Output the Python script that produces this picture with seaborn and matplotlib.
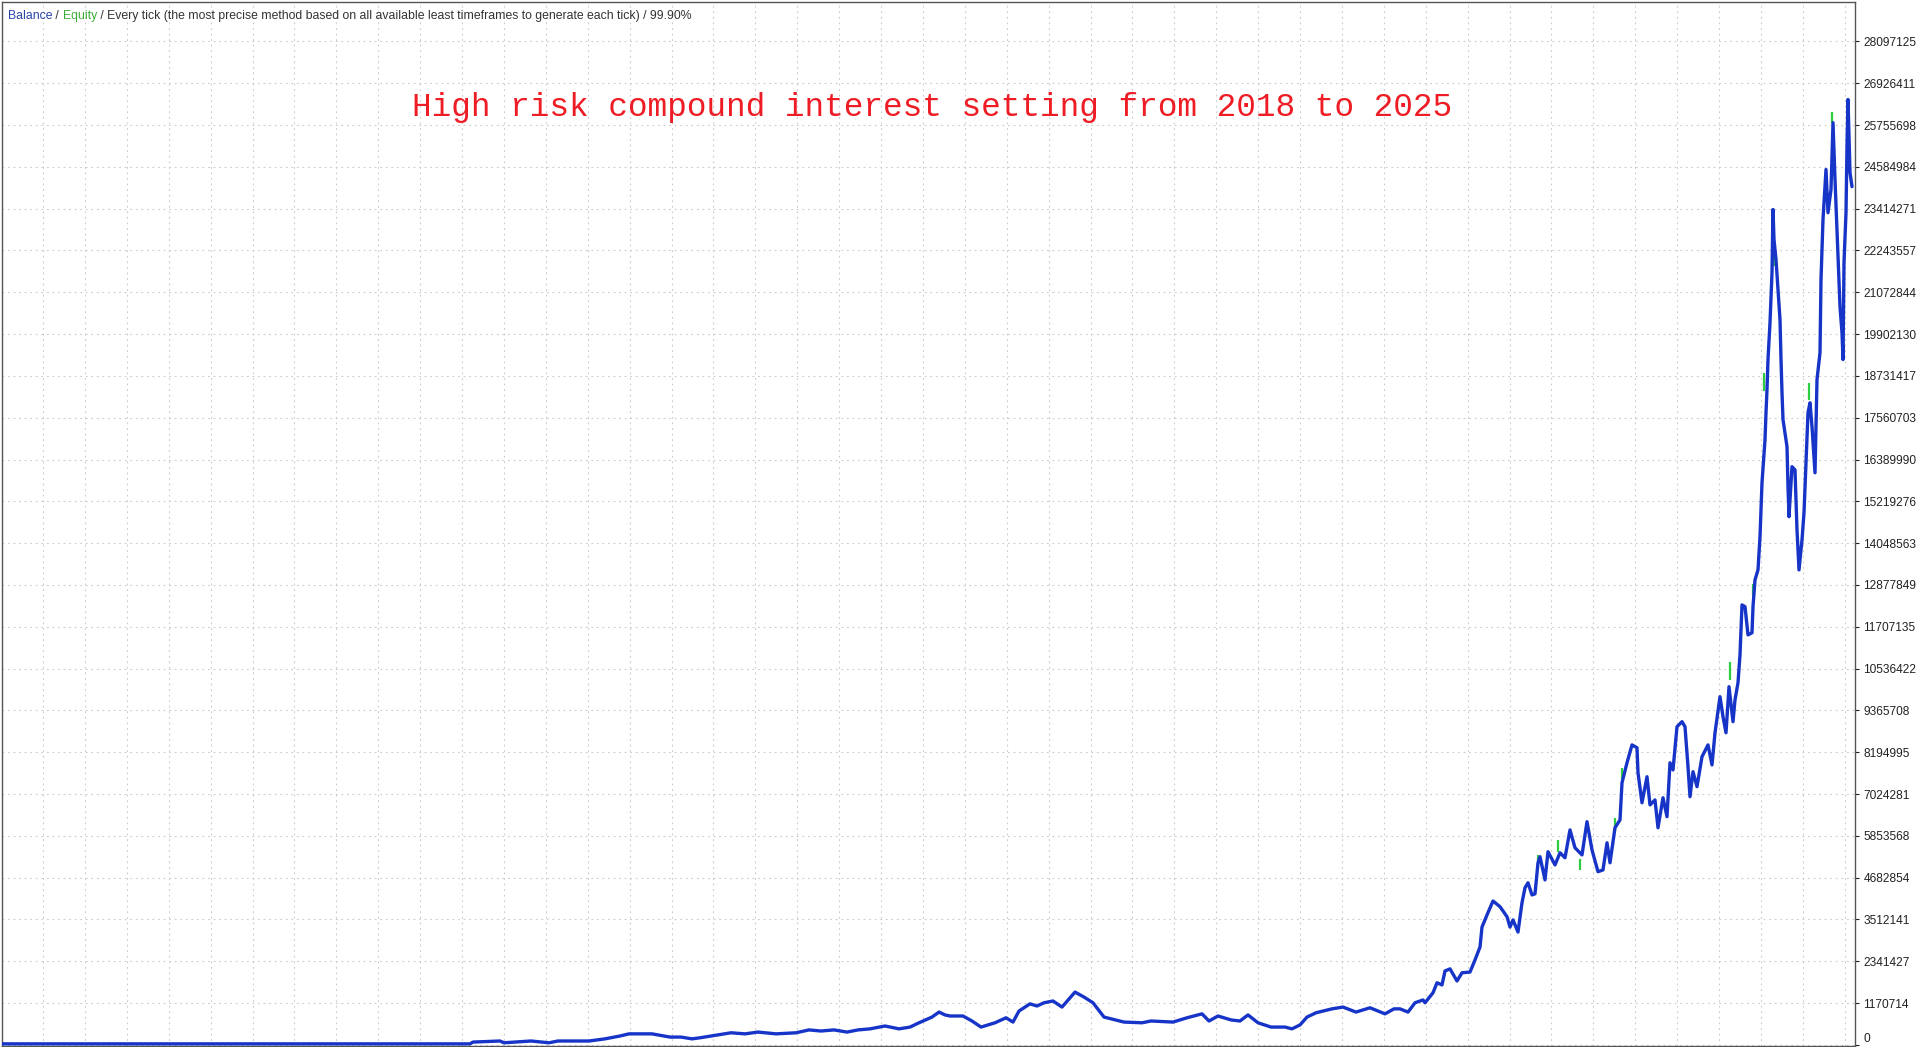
import numpy as np
import pandas as pd
import matplotlib
matplotlib.use("Agg")
import matplotlib.pyplot as plt
import seaborn as sns

# ---- data (bar position, balance in millions) ----
bars = [0, 470, 473, 500, 504, 531, 549, 558, 589, 605, 620, 629, 652, 670, 681, 692,
        700, 718, 731, 745, 758, 776, 796, 809, 821, 834, 847, 858, 870, 885, 899, 910,
        919, 932, 939, 945, 950, 963, 972, 981, 995, 1006, 1013, 1019, 1030, 1037, 1044,
        1053, 1062, 1075, 1084, 1093, 1104, 1124, 1142, 1151, 1173, 1187, 1202, 1209,
        1218, 1231, 1240, 1248, 1258, 1271, 1285, 1292, 1300, 1307, 1316, 1332, 1343,
        1356, 1370, 1385, 1394, 1400, 1408, 1415, 1423, 1425, 1433, 1437, 1442, 1445,
        1450, 1457, 1462, 1470, 1475, 1480, 1482, 1487, 1493, 1500, 1507, 1510, 1513,
        1518, 1522, 1525, 1528, 1532, 1535, 1538, 1540, 1545, 1548, 1555, 1560, 1565,
        1570, 1575, 1582, 1587, 1592, 1598, 1603, 1607, 1610, 1615, 1620, 1622, 1627,
        1632, 1637, 1638, 1642, 1647, 1650, 1655, 1658, 1663, 1667, 1670, 1673, 1677,
        1682, 1685, 1688, 1690, 1693, 1697, 1702, 1708, 1712, 1715, 1720, 1723, 1726,
        1729, 1733, 1735, 1738, 1740, 1742, 1745, 1748, 1752, 1753, 1755, 1758, 1760,
        1762, 1765, 1766, 1767, 1768, 1770, 1772, 1773, 1774, 1776, 1778, 1780, 1781,
        1782, 1783, 1787, 1788, 1789, 1792, 1795, 1797, 1799, 1802, 1804, 1806, 1808,
        1810, 1812, 1815, 1817, 1820, 1821, 1823, 1826, 1828, 1831, 1833, 1835, 1837,
        1840, 1842, 1843, 1844, 1846, 1847, 1848, 1850, 1852]
balance_m = [0.03, 0.03, 0.08, 0.11, 0.06, 0.11, 0.06, 0.11, 0.11, 0.17, 0.25, 0.31, 0.31,
             0.22, 0.22, 0.17, 0.20, 0.28, 0.34, 0.31, 0.36, 0.31, 0.34, 0.42, 0.39, 0.42,
             0.36, 0.42, 0.45, 0.53, 0.45, 0.50, 0.62, 0.78, 0.92, 0.84, 0.81, 0.81, 0.67,
             0.50, 0.62, 0.76, 0.64, 0.95, 1.15, 1.09, 1.18, 1.23, 1.06, 1.48, 1.34, 1.18,
             0.78, 0.64, 0.62, 0.67, 0.64, 0.76, 0.87, 0.67, 0.81, 0.70, 0.67, 0.84, 0.62,
             0.50, 0.50, 0.45, 0.56, 0.78, 0.90, 1.01, 1.06, 0.92, 1.04, 0.87, 1.01, 1.01,
             0.92, 1.18, 1.26, 1.18, 1.46, 1.74, 1.68, 2.07, 2.13, 1.79, 2.02, 2.04, 2.38,
             2.74, 3.30, 3.64, 4.03, 3.87, 3.59, 3.30, 3.50, 3.16, 3.98, 4.40, 4.54, 4.20,
             4.23, 5.10, 5.27, 4.62, 5.41, 5.04, 5.38, 5.24, 6.02, 5.52, 5.32, 6.25, 5.46,
             4.85, 4.90, 5.66, 5.10, 6.08, 6.30, 7.34, 7.90, 8.40, 8.32, 7.62, 6.78, 7.51,
             6.72, 6.86, 6.08, 6.92, 6.39, 7.90, 7.70, 8.91, 9.05, 8.91, 7.79, 6.95, 7.65,
             7.23, 8.07, 8.40, 7.84, 8.74, 9.75, 9.19, 8.74, 10.03, 9.05, 9.66, 10.14, 10.92,
             12.32, 12.27, 11.48, 11.54, 12.27, 13.02, 13.30, 14.23, 15.74, 16.94, 17.70,
             18.35, 19.19, 20.22, 21.62, 23.39, 22.55, 21.99, 21.15, 20.31, 19.19, 18.26,
             17.51, 16.75, 15.63, 14.79, 16.19, 16.10, 14.42, 13.30, 14.14, 14.90, 16.30,
             17.70, 17.98, 17.31, 16.02, 18.63, 19.38, 21.43, 23.11, 24.51, 23.30, 23.95,
             25.82, 24.23, 22.83, 20.67, 19.94, 19.19, 21.90, 23.30, 25.15, 26.47, 24.42,
             24.03]

# equity excursions that show in green above/below the balance line
spike_bars = [1538, 1558, 1580, 1615, 1622, 1730, 1753, 1764, 1774, 1809, 1832]
spike_low_m = [5.10, 5.41, 4.90, 6.00, 7.45, 10.22, 12.60, 18.30, 21.80, 18.07, 25.82]
spike_high_m = [5.32, 5.74, 5.20, 6.35, 7.75, 10.73, 12.90, 18.80, 22.10, 18.54, 26.13]

y_tick_labels = ["0", "1170714", "2341427", "3512141", "4682854", "5853568", "7024281",
                 "8194995", "9365708", "10536422", "11707135", "12877849", "14048563",
                 "15219276", "16389990", "17560703", "18731417", "19902130", "21072844",
                 "22243557", "23414271", "24584984", "25755698", "26926411", "28097125"]

title_text = "High risk compound interest setting from 2018 to 2025"

balance_df = pd.DataFrame({"bar": bars, "balance": np.array(balance_m) * 1e6})

sns.set_theme(style="white")
plt.rcParams["font.family"] = ["Liberation Sans", "DejaVu Sans"]

fig = plt.figure(figsize=(19.2, 10.47), dpi=100)
ax = fig.add_axes([2 / 1920, 1 / 1047, 1853 / 1920, 1044 / 1047])

# equity spikes first, balance drawn on top
ax.vlines(spike_bars, np.array(spike_low_m) * 1e6, np.array(spike_high_m) * 1e6,
          color="#2ecc40", linewidth=1.6, zorder=2)
sns.lineplot(data=balance_df, x="bar", y="balance", ax=ax, color="#1634c8",
             linewidth=2.4, sort=False, estimator=None, zorder=3)

ax.set_xlim(2, 1855)
ax.set_ylim(-30000, 29200000)

# grid
ax.set_xticks(np.arange(43, 1855, 41.9))
ax.set_xticklabels([])
ax.tick_params(axis="x", length=0)
y_ticks = [int(t) for t in y_tick_labels]
ax.set_yticks(y_ticks)
ax.set_yticklabels(y_tick_labels)
ax.yaxis.tick_right()
ax.tick_params(axis="y", direction="out", length=3, width=0.8, pad=3,
               labelsize=8.6, colors="#222222")
# keep the bottom "0" label inside the picture
ax.get_yticklabels()[0].set_verticalalignment("bottom")
ax.grid(True, color="#cccccc", linestyle=(0, (1.6, 3.4)), linewidth=0.8)
ax.set_xlabel("")
ax.set_ylabel("")
for side in ["left", "right", "top", "bottom"]:
    ax.spines[side].set_color("#555555")
    ax.spines[side].set_linewidth(1.0)

# header line with coloured words
hdr_size = 8.85
t1 = ax.text(6 / 1853, 1 - 17 / 1044, "Balance", transform=ax.transAxes,
             color="#2845a8", fontsize=hdr_size, va="baseline", ha="left")
t2 = ax.annotate(" / ", xycoords=t1, xy=(1, 0), va="bottom", color="#333333",
                 fontsize=hdr_size)
t3 = ax.annotate("Equity", xycoords=t2, xy=(1, 0), va="bottom", color="#3cae3c",
                 fontsize=hdr_size)
ax.annotate(" / Every tick (the most precise method based on all available least "
            "timeframes to generate each tick) / 99.90%", xycoords=t3, xy=(1, 0),
            va="bottom", color="#333333", fontsize=hdr_size)

# title
fig.text(932 / 1920, 1 - 116 / 1047, title_text, color="#ee1c24", fontsize=23.6,
         family=["Liberation Mono", "DejaVu Sans Mono"], ha="center", va="baseline")

fig.savefig("out.png", dpi=100, facecolor="white")
plt.close()
